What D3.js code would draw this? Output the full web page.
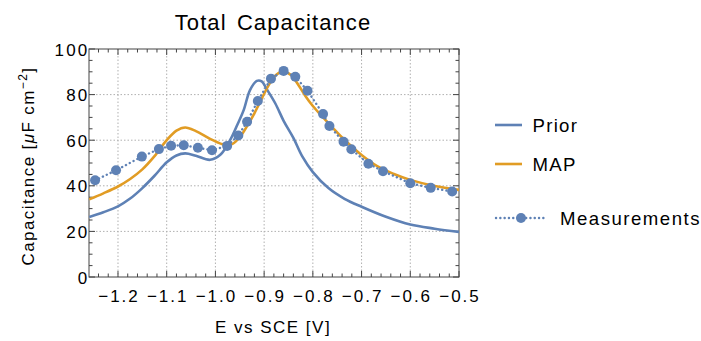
<!DOCTYPE html>
<html>
<head>
<meta charset="utf-8">
<script src="https://cdn.jsdelivr.net/npm/d3@7"></script>
<style>
  body { margin: 0; background: #fff; }
  svg text { font-family: "Liberation Sans", Arial, sans-serif; fill: #000; }
</style>
</head>
<body>
<svg id="chart" width="701" height="341"></svg>
<script>
// data
const priorE = [-1.259, -1.23, -1.2, -1.175, -1.15, -1.125, -1.1, -1.08, -1.062, -1.04, -1.011, -0.99, -0.97, -0.955, -0.942, -0.929, -0.915, -0.905, -0.895, -0.877, -0.86, -0.84, -0.822, -0.8, -0.768, -0.735, -0.7, -0.65, -0.6, -0.55, -0.5];
const priorC = [26.3, 28.4, 31.0, 34.4, 39.0, 44.4, 50.3, 53.3, 54.2, 53.2, 51.4, 53.6, 60.0, 66.8, 73.2, 82.0, 86.0, 85.8, 82.5, 76.1, 68.5, 61.0, 53.0, 46.0, 39.0, 34.3, 30.8, 26.4, 23.0, 21.2, 19.8];

const mapE = [-1.259, -1.23, -1.2, -1.175, -1.15, -1.125, -1.1, -1.08, -1.062, -1.04, -1.01, -0.98, -0.965, -0.95, -0.935, -0.92, -0.905, -0.89, -0.875, -0.862, -0.845, -0.829, -0.815, -0.8, -0.78, -0.76, -0.737, -0.7, -0.668, -0.635, -0.6, -0.55, -0.5];
const mapC = [34.1, 36.7, 39.7, 43.0, 47.2, 53.0, 60.0, 64.2, 65.6, 64.0, 60.5, 57.9, 58.4, 61.3, 66.2, 71.8, 78.2, 84.4, 88.7, 90.2, 88.6, 84.0, 79.3, 75.0, 70.2, 65.6, 60.5, 53.5, 48.6, 45.3, 42.6, 39.9, 38.2];

const measE = [-1.247, -1.204, -1.151, -1.116, -1.091, -1.065, -1.036, -1.007, -0.976, -0.953, -0.935, -0.913, -0.886, -0.860, -0.836, -0.811, -0.779, -0.766, -0.737, -0.721, -0.686, -0.656, -0.600, -0.558, -0.514];
const measC = [42.4, 46.8, 52.8, 56.1, 57.6, 57.8, 56.7, 55.6, 57.5, 62.1, 68.1, 77.2, 87.0, 90.4, 87.8, 81.7, 71.5, 66.2, 59.3, 56.0, 49.7, 46.4, 41.1, 39.1, 37.5];

const xMajor = [-1.2, -1.1, -1.0, -0.9, -0.8, -0.7, -0.6, -0.5];
const xLabels = ["\u22121.2", "\u22121.1", "\u22121.0", "\u22120.9", "\u22120.8", "\u22120.7", "\u22120.6", "\u22120.5"];
const yMajor = [0, 20, 40, 60, 80, 100];

const blue = "#5E81B5", orange = "#E19C24";

const svg = d3.select("#chart");
const mLeft = 89, mRight = 459, mTop = 49, mBottom = 277;

const x = d3.scaleLinear().domain([-1.2595, -0.5]).range([mLeft, mRight]);
const y = d3.scaleLinear().domain([0, 100]).range([mBottom, mTop]);

// grid
const grid = svg.append("g").attr("stroke", "#b0b0b0").attr("stroke-width", 1).attr("stroke-dasharray", "1.5,2");
grid.selectAll(".gx").data(xMajor.slice(0, -1)).join("line")
  .attr("x1", d => x(d)).attr("x2", d => x(d)).attr("y1", mTop).attr("y2", mBottom);
grid.selectAll(".gy").data(yMajor.slice(1, -1)).join("line")
  .attr("x1", mLeft).attr("x2", mRight).attr("y1", d => y(d)).attr("y2", d => y(d));

// frame ticks, inward on all sides
const xMinor = d3.range(-1.26, -0.499, 0.02).filter(v => v >= -1.2595 && xMajor.every(m => Math.abs(m - v) > 1e-6));
const yMinor = d3.range(0, 100.1, 5).filter(v => v % 20 !== 0);
const ticks = svg.append("g").attr("stroke", "#444").attr("stroke-width", 1);
function xTicks(vals, len) {
  vals.forEach(v => {
    ticks.append("line").attr("x1", x(v)).attr("x2", x(v)).attr("y1", mBottom).attr("y2", mBottom - len);
    ticks.append("line").attr("x1", x(v)).attr("x2", x(v)).attr("y1", mTop).attr("y2", mTop + len);
  });
}
function yTicks(vals, len) {
  vals.forEach(v => {
    ticks.append("line").attr("x1", mLeft).attr("x2", mLeft + len).attr("y1", y(v)).attr("y2", y(v));
    ticks.append("line").attr("x1", mRight).attr("x2", mRight - len).attr("y1", y(v)).attr("y2", y(v));
  });
}
xTicks(xMajor, 6); xTicks(xMinor, 3.5);
yTicks(yMajor, 6); yTicks(yMinor, 3.5);

svg.append("rect").attr("x", mLeft).attr("y", mTop).attr("width", mRight - mLeft).attr("height", mBottom - mTop)
  .attr("fill", "none").attr("stroke", "#444").attr("stroke-width", 1);

// tick labels
svg.selectAll(".xl").data(xMajor).join("text")
  .attr("x", d => x(d) + 1).attr("y", 302).attr("text-anchor", "middle")
  .attr("font-size", 17).attr("letter-spacing", 2).text((d, i) => xLabels[i]);
svg.selectAll(".yl").data(yMajor).join("text")
  .attr("x", 89.5).attr("y", d => y(d) + 6.6).attr("text-anchor", "end")
  .attr("font-size", 17).attr("letter-spacing", 2.2).text(d => d);

// curves
svg.append("clipPath").attr("id", "clip").append("rect")
  .attr("x", mLeft).attr("y", mTop).attr("width", mRight - mLeft).attr("height", mBottom - mTop);
const plot = svg.append("g").attr("clip-path", "url(#clip)");
const line = d3.line().x(d => x(d[0])).y(d => y(d[1])).curve(d3.curveCatmullRom.alpha(0.5));

plot.append("path").datum(priorE.map((e, i) => [e, priorC[i]])).attr("d", line)
  .attr("fill", "none").attr("stroke", blue).attr("stroke-width", 2.6);
plot.append("path").datum(mapE.map((e, i) => [e, mapC[i]])).attr("d", line)
  .attr("fill", "none").attr("stroke", orange).attr("stroke-width", 2.6);

const measLine = d3.line().x(d => x(d[0])).y(d => y(d[1]));
const meas = measE.map((e, i) => [e, measC[i]]);
plot.append("path").datum(meas).attr("d", measLine)
  .attr("fill", "none").attr("stroke", blue).attr("stroke-width", 2.4)
  .attr("stroke-dasharray", "0.1,4.2").attr("stroke-linecap", "round");
plot.selectAll(".pt").data(meas).join("circle")
  .attr("cx", d => x(d[0])).attr("cy", d => y(d[1])).attr("r", 5).attr("fill", blue);

// title and axis labels
svg.append("text").attr("x", 273).attr("y", 29.5).attr("text-anchor", "middle")
  .attr("font-size", 22).attr("letter-spacing", 1.1).attr("word-spacing", 3).text("Total Capacitance");
svg.append("text").attr("x", 273).attr("y", 333.3).attr("text-anchor", "middle")
  .attr("font-size", 17).attr("letter-spacing", 1.5).text("E vs SCE [V]");
const yl = svg.append("text").attr("transform", "translate(34,166) rotate(-90)")
  .attr("text-anchor", "middle").attr("font-size", 17).attr("letter-spacing", 1.4);
yl.append("tspan").text("Capacitance [");
yl.append("tspan").attr("font-style", "italic").text("\u03bc");
yl.append("tspan").text("F cm");
yl.append("tspan").attr("font-size", 12).attr("dy", -7).text("\u22122");
yl.append("tspan").attr("dy", 7).text("]");

// legend
const legend = svg.append("g");
const entries = [
  { name: "Prior", color: blue, ly: 125 },
  { name: "MAP", color: orange, ly: 164 }
];
entries.forEach(e => {
  legend.append("line").attr("x1", 495).attr("x2", 522).attr("y1", e.ly).attr("y2", e.ly)
    .attr("stroke", e.color).attr("stroke-width", 2.6);
  legend.append("text").attr("x", 532.5).attr("y", e.ly + 6.7).attr("font-size", 18.6)
    .attr("letter-spacing", 1.3).text(e.name);
});
legend.append("line").attr("x1", 496).attr("x2", 547).attr("y1", 218).attr("y2", 218)
  .attr("stroke", blue).attr("stroke-width", 2.4).attr("stroke-dasharray", "0.1,4.2").attr("stroke-linecap", "round");
legend.append("circle").attr("cx", 521).attr("cy", 218).attr("r", 5).attr("fill", blue);
legend.append("text").attr("x", 560).attr("y", 224.7).attr("font-size", 18.6)
  .attr("letter-spacing", 1.5).text("Measurements");
</script>
</body>
</html>
